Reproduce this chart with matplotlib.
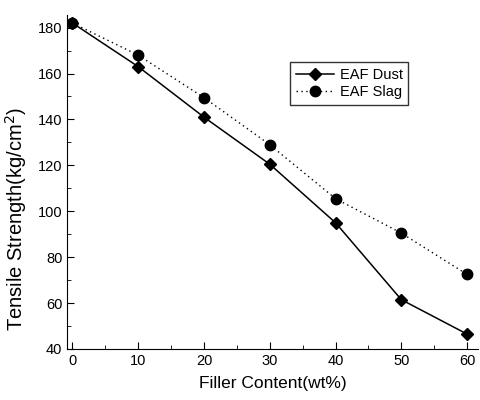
import matplotlib
matplotlib.use("Agg")
import matplotlib.pyplot as plt
from matplotlib.ticker import MultipleLocator

plt.rcParams['font.family'] = ['Liberation Sans', 'DejaVu Sans']

filler = [0, 10, 20, 30, 40, 50, 60]
dust = [182, 163, 141, 120.5, 95, 61.5, 46.5]
slag = [182, 168, 149.5, 129, 105.5, 90.5, 72.5]

fig = plt.figure(figsize=(4.8, 4.0), dpi=100)
ax = fig.add_axes([0.14, 0.1275, 0.855, 0.835])

ax.plot(filler, dust, color="black", lw=1.1, marker="D", ms=6.5, label="EAF Dust")
ax.plot(filler, slag, color="black", lw=1.0, ls=(0, (1, 2.5)), marker="o", ms=7.5,
        label="EAF Slag")

ax.set_xlim(-0.8, 61.6)
ax.set_ylim(40, 185.5)
ax.xaxis.set_major_locator(MultipleLocator(10))
ax.xaxis.set_minor_locator(MultipleLocator(5))
ax.yaxis.set_major_locator(MultipleLocator(20))
ax.yaxis.set_minor_locator(MultipleLocator(10))
ax.tick_params(which="both", direction="in", labelsize=10.5)
ax.tick_params(which="major", length=5)
ax.tick_params(which="minor", length=3)
ax.spines["top"].set_visible(False)
ax.spines["right"].set_visible(False)

ax.set_xlabel("Filler Content(wt%)", fontsize=12.5, labelpad=6)
ax.set_ylabel("Tensile Strength(kg/cm$^2$)", fontsize=14.5)
ax.yaxis.set_label_coords(-0.093, 0.39)

leg = ax.legend(loc="upper left", bbox_to_anchor=(0.525, 0.88), fontsize=10.5,
                frameon=True, fancybox=False, edgecolor="black", handlelength=2.6,
                handletextpad=0.4, borderpad=0.4, labelspacing=0.2)
leg.get_frame().set_linewidth(1.0)

fig.savefig("out.png", dpi=100)
